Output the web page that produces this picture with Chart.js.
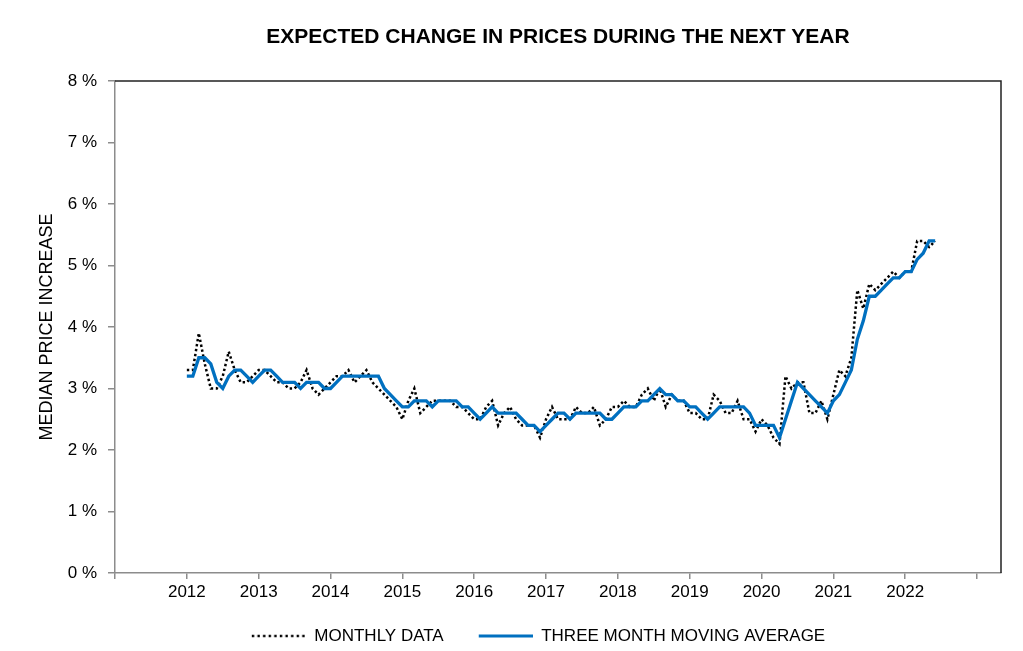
<!DOCTYPE html>
<html>
<head>
<meta charset="utf-8">
<script src="https://cdn.jsdelivr.net/npm/chart.js@4.4.1/dist/chart.umd.min.js"></script>
<style>
  html, body { margin: 0; padding: 0; background: #fff; }
  #chart { display: block; }
</style>
</head>
<body>
<canvas id="chart" width="1023" height="651"></canvas>
<script>
// x axis counts months from January 2011; the survey series starts January 2012
const AXIS_START_YEAR = 2011;
const FIRST_MONTH = 12;
const AXIS_MONTHS = 148;
const YEARS = [2012, 2013, 2014, 2015, 2016, 2017, 2018, 2019, 2020, 2021, 2022];
const Y_TICKS = [0, 1, 2, 3, 4, 5, 6, 7, 8];

// monthly readings, Jan 2012 .. Jun 2022
const monthlyData = [
  3.3, 3.3, 3.9, 3.4, 3.0, 3.0, 3.2, 3.6, 3.3, 3.1, 3.1, 3.2,
  3.3, 3.3, 3.2, 3.1, 3.1, 3.0, 3.0, 3.1, 3.3, 3.0, 2.9, 3.0,
  3.1, 3.2, 3.2, 3.3, 3.1, 3.2, 3.3, 3.1, 3.0, 2.9, 2.8, 2.7,
  2.5, 2.8, 3.0, 2.6, 2.7, 2.8, 2.8, 2.8, 2.8, 2.7, 2.7, 2.6,
  2.5, 2.5, 2.7, 2.8, 2.4, 2.6, 2.7, 2.5, 2.4, 2.4, 2.4, 2.2,
  2.5, 2.7, 2.5, 2.5, 2.5, 2.7, 2.6, 2.6, 2.7, 2.4, 2.5, 2.7,
  2.7, 2.8, 2.7, 2.7, 2.9, 3.0, 2.8, 3.0, 2.7, 2.9, 2.8, 2.8,
  2.6, 2.6, 2.5, 2.5, 2.9, 2.8, 2.6, 2.6, 2.8, 2.5, 2.5, 2.3,
  2.5, 2.4, 2.2, 2.1, 3.2, 3.0, 3.1, 3.1, 2.6, 2.6, 2.8, 2.5,
  2.9, 3.3, 3.2, 3.5, 4.6, 4.3, 4.7, 4.6, 4.7, 4.8, 4.9, 4.8,
  4.9, 4.9, 5.4, 5.4, 5.3, 5.4
];

// three month moving average, same months
const movingAverage = [
  3.2, 3.2, 3.5, 3.5, 3.4, 3.1, 3.0, 3.2, 3.3, 3.3, 3.2, 3.1,
  3.2, 3.3, 3.3, 3.2, 3.1, 3.1, 3.1, 3.0, 3.1, 3.1, 3.1, 3.0,
  3.0, 3.1, 3.2, 3.2, 3.2, 3.2, 3.2, 3.2, 3.2, 3.0, 2.9, 2.8,
  2.7, 2.7, 2.8, 2.8, 2.8, 2.7, 2.8, 2.8, 2.8, 2.8, 2.7, 2.7,
  2.6, 2.5, 2.6, 2.7, 2.6, 2.6, 2.6, 2.6, 2.5, 2.4, 2.4, 2.3,
  2.4, 2.5, 2.6, 2.6, 2.5, 2.6, 2.6, 2.6, 2.6, 2.6, 2.5, 2.5,
  2.6, 2.7, 2.7, 2.7, 2.8, 2.8, 2.9, 3.0, 2.9, 2.9, 2.8, 2.8,
  2.7, 2.7, 2.6, 2.5, 2.6, 2.7, 2.7, 2.7, 2.7, 2.7, 2.6, 2.4,
  2.4, 2.4, 2.4, 2.2, 2.5, 2.8, 3.1, 3.0, 2.9, 2.8, 2.7, 2.6,
  2.8, 2.9, 3.1, 3.3, 3.8, 4.1, 4.5, 4.5, 4.6, 4.7, 4.8, 4.8,
  4.9, 4.9, 5.1, 5.2, 5.4, 5.4
];

const toPoints = arr => arr.map((v, i) => ({ x: FIRST_MONTH + i, y: v }));

const FONT = 'Liberation Sans, Arial, sans-serif';
const BLUE = '#0070C0';
const DOTS = [2.4, 2.6];

// legend swatch: line sits in the right part of the box, leaving a gap before it
const SWATCH_W = 68, LINE_W = 54;
function swatch(color, width, dash) {
  const c = document.createElement('canvas');
  c.width = SWATCH_W; c.height = 8;
  const g = c.getContext('2d');
  g.strokeStyle = color;
  g.lineWidth = width;
  g.setLineDash(dash);
  g.beginPath();
  g.moveTo(SWATCH_W - LINE_W, 4);
  g.lineTo(SWATCH_W, 4);
  g.stroke();
  return c;
}
const swatches = [swatch('#000', 2.4, [2.4, 3.2]), swatch(BLUE, 3.2, [])];

// dark top and right edges of the plot box
const frame = {
  id: 'frame',
  afterDraw(chart) {
    const { ctx, chartArea: a } = chart;
    ctx.save();
    ctx.strokeStyle = '#222';
    ctx.lineWidth = 1.5;
    ctx.beginPath();
    ctx.moveTo(a.left, a.top);
    ctx.lineTo(a.right, a.top);
    ctx.lineTo(a.right, a.bottom);
    ctx.stroke();
    ctx.restore();
  }
};

new Chart(document.getElementById('chart'), {
  type: 'line',
  data: {
    datasets: [{
      label: 'MONTHLY DATA',
      data: toPoints(monthlyData),
      borderColor: '#000',
      backgroundColor: '#000',
      borderWidth: 2.5,
      borderDash: DOTS,
      pointRadius: 0,
      tension: 0,
      order: 2,
    }, {
      label: 'THREE MONTH MOVING AVERAGE',
      data: toPoints(movingAverage),
      borderColor: BLUE,
      backgroundColor: BLUE,
      borderWidth: 3.3,
      pointRadius: 0,
      tension: 0,
      order: 1,
    }],
  },
  options: {
    responsive: false,
    animation: false,
    devicePixelRatio: 1,
    layout: { padding: { left: 62, right: 22, top: 0, bottom: -3.5 } },
    plugins: {
      tooltip: { enabled: false },
      title: {
        display: true,
        fullSize: false,
        text: 'EXPECTED CHANGE IN PRICES DURING THE NEXT YEAR',
        color: '#000',
        font: { family: FONT, size: 21, weight: 'bold' },
        padding: { top: 24.4, bottom: 31.4 },
      },
      legend: {
        position: 'bottom',
        labels: {
          usePointStyle: true,
          pointStyleWidth: SWATCH_W,
          padding: 21,
          color: '#000',
          font: { family: FONT, size: 17 },
          sort: (a, b) => a.datasetIndex - b.datasetIndex,
          generateLabels: chart => Chart.defaults.plugins.legend.labels.generateLabels(chart)
            .map(item => Object.assign(item, { pointStyle: swatches[item.datasetIndex] })),
        },
      },
    },
    scales: {
      x: {
        type: 'linear',
        min: 0,
        max: AXIS_MONTHS,
        afterFit: s => { s.height = 33.5; },
        border: { color: '#8c8c8c', width: 1.5 },
        grid: { drawOnChartArea: false, drawTicks: true, tickLength: 6, color: '#8c8c8c', lineWidth: 1.5 },
        ticks: {
          stepSize: 12,
          includeBounds: false,
          maxRotation: 0,
          autoSkip: false,
          padding: 3,
          color: '#000',
          font: { family: FONT, size: 17 },
          callback: v => {
            const year = AXIS_START_YEAR + v / 12;
            return YEARS.includes(year) ? String(year) : '';
          },
        },
      },
      y: {
        min: Y_TICKS[0],
        max: Y_TICKS[Y_TICKS.length - 1],
        afterFit: s => { s.width = 53; },
        border: { color: '#8c8c8c', width: 1.5 },
        grid: { drawOnChartArea: false, drawTicks: true, tickLength: 7, color: '#8c8c8c', lineWidth: 1.5 },
        ticks: {
          stepSize: 1,
          padding: 11,
          color: '#000',
          font: { family: FONT, size: 17 },
          callback: v => v + ' %',
        },
        title: {
          display: true,
          text: 'MEDIAN PRICE INCREASE',
          color: '#000',
          font: { family: FONT, size: 18 },
          padding: { top: -25.8, bottom: 0 },
        },
      },
    },
  },
  plugins: [frame],
});
</script>
</body>
</html>
